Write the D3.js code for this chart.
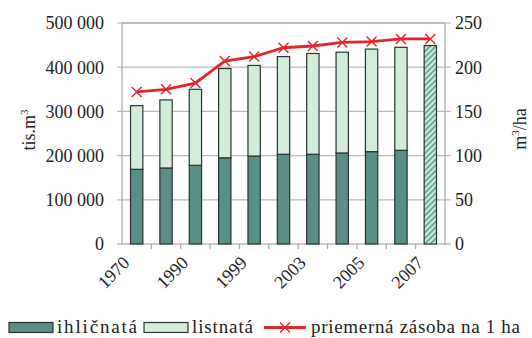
<!DOCTYPE html>
<html><head><meta charset="utf-8">
<script src="https://cdn.jsdelivr.net/npm/d3@7"></script>
<style>
html,body{margin:0;padding:0;background:#fff;}
svg text{font-family:"Liberation Serif","Times New Roman",serif;fill:#222;}
</style></head>
<body><svg id="c" width="532" height="338"></svg>
<script>
const years = ["1970","1980","1990","1995","1999","2001","2003","2004","2005","2006","2007"];
const shownYears = ["1970","1990","1999","2003","2005","2007"];
const ihlicnate = [169,172,178,195,199,203,203,206,209,212,null];   // tis. m3 (thousands)
const listnate  = [144,154,172,202,205,221,228,228,232,233,null];
const spoluSrafovane = [null,null,null,null,null,null,null,null,null,null,449];
const zasobaNaHa = [172,175,182,207,212,222,224,228,229,232,232];
const leftTicks = [0,100000,200000,300000,400000,500000];
const rightTicks = [0,50,100,150,200,250];

const svg = d3.select("#c");
const L=122, R=445, T=23, B=244;
const x = d3.scaleBand().domain(years).range([L,R]).paddingInner(0.58).paddingOuter(0.29);
const yL = d3.scaleLinear().domain([0,500000]).range([B,T]);
const yR = d3.scaleLinear().domain([0,250]).range([B,T]);
const fmt = v => d3.format(",")(v).replace(/,/g," ");

const defs = svg.append("defs");
const pat = defs.append("pattern").attr("id","hatch").attr("patternUnits","userSpaceOnUse")
  .attr("width",4).attr("height",4).attr("patternTransform","rotate(45)");
pat.append("rect").attr("width",4).attr("height",4).attr("fill","#cfeadb");
pat.append("rect").attr("width",1.6).attr("height",4).attr("fill","#5d9a90");

// gridlines
svg.append("g").selectAll("line").data(leftTicks.slice(1)).join("line")
  .attr("x1",L-5).attr("x2",R+6).attr("y1",d=>yL(d)).attr("y2",d=>yL(d))
  .attr("stroke","#b9b9b9").attr("stroke-width",1.2);
// plot border
svg.append("rect").attr("x",L).attr("y",T).attr("width",R-L).attr("height",B-T)
  .attr("fill","none").attr("stroke","#a9a9a9").attr("stroke-width",1.2);
svg.append("line").attr("x1",L-5).attr("x2",L).attr("y1",B).attr("y2",B).attr("stroke","#a9a9a9").attr("stroke-width",1.2);
svg.append("line").attr("x1",R).attr("x2",R+6).attr("y1",B).attr("y2",B).attr("stroke","#a9a9a9").attr("stroke-width",1.2);

// x ticks between categories
const step = x.step();
svg.append("g").selectAll("line").data(years.slice(1)).join("line")
  .attr("x1",d=>x(d)-(step-x.bandwidth())/2).attr("x2",d=>x(d)-(step-x.bandwidth())/2)
  .attr("y1",B).attr("y2",B+5).attr("stroke","#a9a9a9").attr("stroke-width",1.2);

// left tick labels
svg.append("g").selectAll("text").data(leftTicks).join("text")
  .attr("x",104).attr("y",d=>yL(d)).attr("dy","0.35em").attr("text-anchor","end")
  .attr("font-size",18).text(fmt);
// right tick labels
svg.append("g").selectAll("text").data(rightTicks).join("text")
  .attr("x",455).attr("y",d=>yR(d)).attr("dy","0.35em").attr("text-anchor","start")
  .attr("font-size",18).text(d=>d);

// bars
const bw = x.bandwidth();
const barStroke = "#2a3533";
svg.append("g").selectAll("rect").data(years.map((y,i)=>({y,v:ihlicnate[i]})).filter(d=>d.v!=null)).join("rect")
  .attr("x",d=>x(d.y)).attr("width",bw).attr("y",d=>yL(d.v*1000)).attr("height",d=>B-yL(d.v*1000))
  .attr("fill","#5b8e87").attr("stroke",barStroke).attr("stroke-width",1.2);
svg.append("g").selectAll("rect").data(years.map((y,i)=>({y,a:ihlicnate[i],b:listnate[i]})).filter(d=>d.b!=null)).join("rect")
  .attr("x",d=>x(d.y)).attr("width",bw).attr("y",d=>yL((d.a+d.b)*1000)).attr("height",d=>yL(d.a*1000)-yL((d.a+d.b)*1000))
  .attr("fill","#d2ecd9").attr("stroke",barStroke).attr("stroke-width",1.2);
svg.append("g").selectAll("rect").data(years.map((y,i)=>({y,v:spoluSrafovane[i]})).filter(d=>d.v!=null)).join("rect")
  .attr("x",d=>x(d.y)).attr("width",bw).attr("y",d=>yL(d.v*1000)).attr("height",d=>B-yL(d.v*1000))
  .attr("fill","url(#hatch)").attr("stroke",barStroke).attr("stroke-width",1.2);

// line
const cx = d=>x(d)+bw/2;
const red = "#e3262b";
svg.append("path").datum(zasobaNaHa).attr("fill","none").attr("stroke",red).attr("stroke-width",2.8)
  .attr("d",d3.line().x((d,i)=>cx(years[i])).y(d=>yR(d)));
const mk = 5;
svg.append("g").selectAll("path").data(zasobaNaHa).join("path")
  .attr("d",(d,i)=>{const X=cx(years[i]),Y=yR(d);return `M${X-mk},${Y-mk}L${X+mk},${Y+mk}M${X-mk},${Y+mk}L${X+mk},${Y-mk}`;})
  .attr("stroke",red).attr("stroke-width",1.4).attr("fill","none");

// x labels
svg.append("g").selectAll("text").data(shownYears).join("text")
  .attr("transform",d=>`translate(${cx(d)-6},${B+20}) rotate(-45)`)
  .attr("text-anchor","end").attr("font-size",18).text(d=>d);

// axis titles
const tl = svg.append("text").attr("transform","translate(35,130) rotate(-90)").attr("text-anchor","middle").attr("font-size",18);
tl.append("tspan").text("tis.m");
tl.append("tspan").attr("font-size",11).attr("dy",-7).text("3");
const tr = svg.append("text").attr("transform","translate(526,129) rotate(-90)").attr("text-anchor","middle").attr("font-size",18);
tr.append("tspan").text("m");
tr.append("tspan").attr("font-size",11).attr("dy",-7).text("3");
tr.append("tspan").attr("dy",7).text("/ha");

// legend
const lg = svg.append("g");
lg.append("rect").attr("x",9).attr("y",322.5).attr("width",44).attr("height",10).attr("fill","#5b8e87").attr("stroke",barStroke).attr("stroke-width",1.2);
lg.append("text").attr("x",57).attr("y",333).attr("font-size",19).attr("textLength",80).attr("lengthAdjust","spacing").text("ihličnatá");
lg.append("rect").attr("x",144).attr("y",322.5).attr("width",44).attr("height",10).attr("fill","#d2ecd9").attr("stroke",barStroke).attr("stroke-width",1.2);
lg.append("text").attr("x",192).attr("y",333).attr("font-size",19).attr("textLength",61).attr("lengthAdjust","spacing").text("listnatá");
lg.append("line").attr("x1",264).attr("x2",306).attr("y1",327.5).attr("y2",327.5).attr("stroke",red).attr("stroke-width",2.8);
lg.append("path").attr("d",`M${285-mk},${327.5-mk}L${285+mk},${327.5+mk}M${285-mk},${327.5+mk}L${285+mk},${327.5-mk}`).attr("stroke",red).attr("stroke-width",1.4);
lg.append("text").attr("x",311).attr("y",333).attr("font-size",19).attr("textLength",209).attr("lengthAdjust","spacing").text("priemerná zásoba na 1 ha");
</script></body></html>
